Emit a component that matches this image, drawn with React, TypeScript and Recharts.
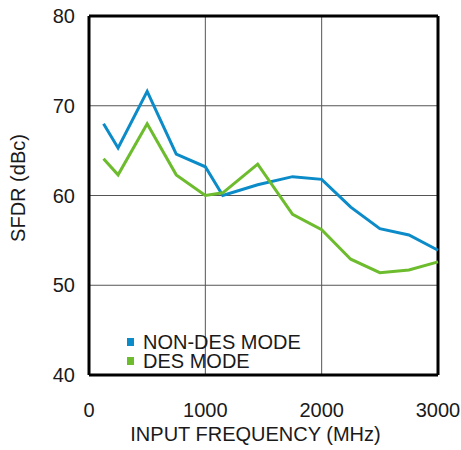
import { LineChart, Line, XAxis, YAxis, CartesianGrid, Legend, ReferenceLine } from 'recharts';

// Input frequency (MHz) and SFDR readings (dBc)
const frequencies = [125, 250, 500, 750, 1000, 1150, 1450, 1750, 2000, 2250, 2500, 2750, 3000];
const nonDesMode = [68.0, 65.3, 71.6, 64.6, 63.2, 60.0, 61.2, 62.1, 61.8, 58.7, 56.3, 55.6, 53.9];
const desMode = [64.1, 62.3, 68.0, 62.3, 60.0, 60.3, 63.5, 57.9, 56.2, 52.9, 51.4, 51.7, 52.6];

const seriesNames = ['NON-DES MODE', 'DES MODE'];
const xTicks = [0, 1000, 2000, 3000];
const yTicks = [40, 50, 60, 70, 80];

const data = frequencies.map((f, i) => ({ freq: f, nonDes: nonDesMode[i], des: desMode[i] }));

const FONT = '"Liberation Sans", Arial, sans-serif';
const FS = 20;
const BLUE = '#0b8bc8';
const GREEN = '#6cbc2d';

// keep legend in the same order as the reference (blue first)
const LegendBox = ({ payload }: any) => {
  const items = [...(payload || [])].sort(
    (a: any, b: any) => seriesNames.indexOf(a.value) - seriesNames.indexOf(b.value)
  );
  return (
    <div style={{ fontFamily: FONT, fontSize: FS, lineHeight: '20px', color: '#1a1a1a' }}>
      {items.map((p: any) => (
        <div key={p.value} style={{ display: 'flex', alignItems: 'center', whiteSpace: 'nowrap', height: 19 }}>
          <span style={{ display: 'inline-block', width: 7, height: 8, background: p.color, marginRight: 9 }} />
          {p.value}
        </div>
      ))}
    </div>
  );
};

const YLabel = () => (
  <text
    x={18}
    y={188}
    transform="rotate(-90 18 188)"
    textAnchor="middle"
    dominantBaseline="central"
    fontFamily={FONT}
    fontSize={FS}
    fill="#1a1a1a"
  >
    SFDR (dBc)
  </text>
);

export default function App() {
  return (
    <div style={{ position: 'absolute', left: 0, top: 0, background: '#fff' }}>
      <LineChart width={461} height={450} data={data} margin={{ top: 16, right: 23, bottom: 0, left: 0 }}>
        <CartesianGrid stroke="#555" strokeWidth={1} />
        <XAxis
          type="number"
          dataKey="freq"
          domain={[0, 3000]}
          ticks={xTicks}
          height={75}
          axisLine={{ stroke: '#000', strokeWidth: 3 }}
          tickLine={false}
          tickSize={0}
          tickMargin={28}
          tick={{ fontFamily: FONT, fontSize: FS, fill: '#1a1a1a' }}
          label={{ value: 'INPUT FREQUENCY (MHz)', position: 'insideBottom', offset: 9, dx: -8, fontFamily: FONT, fontSize: FS, fill: '#1a1a1a' }}
        />
        <YAxis
          type="number"
          domain={[40, 80]}
          ticks={yTicks}
          width={89}
          axisLine={{ stroke: '#000', strokeWidth: 3 }}
          tickLine={false}
          tickSize={0}
          tickMargin={14}
          tick={{ fontFamily: FONT, fontSize: FS, fill: '#1a1a1a' }}
          label={<YLabel />}
        />
        <ReferenceLine y={80} stroke="#000" strokeWidth={3} />
        <ReferenceLine x={3000} stroke="#000" strokeWidth={3} />
        <Legend
          layout="horizontal"
          verticalAlign="middle"
          align="center"
          content={<LegendBox />}
          wrapperStyle={{ left: 127, top: 332, width: 'auto' }}
        />
        <Line
          name={seriesNames[0]}
          dataKey="nonDes"
          stroke={BLUE}
          strokeWidth={3}
          dot={false}
          isAnimationActive={false}
        />
        <Line
          name={seriesNames[1]}
          dataKey="des"
          stroke={GREEN}
          strokeWidth={3}
          dot={false}
          isAnimationActive={false}
        />
      </LineChart>
    </div>
  );
}
